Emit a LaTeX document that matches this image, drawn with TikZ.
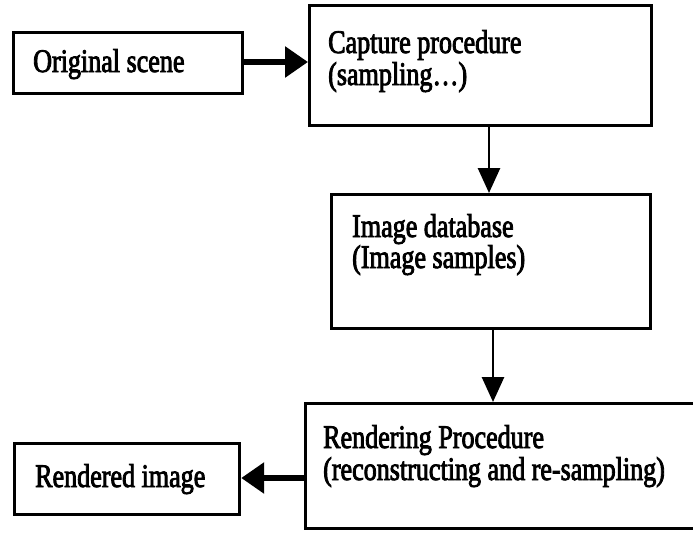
\documentclass[tikz,border=0pt]{standalone}
\usepackage{fontspec}
\setmainfont[FakeStretch=0.79,FakeBold=2.5]{Liberation Serif}
\usetikzlibrary{arrows.meta}
\begin{document}
\begin{tikzpicture}[x=1pt,y=-1pt,
  box/.style={draw=black,line width=3.2pt,anchor=north west,inner sep=0pt},
  lbl/.style={anchor=base west,inner sep=0pt,font=\fontsize{33}{33}\selectfont},
  thick arrow/.style={line width=6pt,-{Triangle[length=23pt,width=30pt]}},
  thin arrow/.style={line width=2.8pt,-{Triangle[length=25pt,width=22pt]}}]
\useasboundingbox (0,0) rectangle (693,535);
\fill[white] (0,0) rectangle (693,535);
% boxes
\node[box,minimum width=229pt,minimum height=61pt] (orig) at (12,31) {};
\node[box,minimum width=342pt,minimum height=120pt] (capt) at (308,4) {};
\node[box,minimum width=319pt,minimum height=134pt] (imdb) at (330,193) {};
\node[box,minimum width=392pt,minimum height=125pt] (rend) at (304,402) {};
\node[box,minimum width=225pt,minimum height=71pt] (rimg) at (13,442) {};
% texts
\node[lbl] (t1) at (33,72) {Original scene};
\node[lbl] (t2) at (328,53) {Capture procedure};
\node[lbl] (t3) at (328,85) {(sampling\ldots)};
\node[lbl] (t4) at (352,237) {Image database};
\node[lbl] (t5) at (352,268) {(Image samples)};
\node[lbl] (t6) at (323,448) {Rendering Procedure};
\node[lbl] (t7) at (323,480) {(reconstructing and re-sampling)};
\node[lbl] (t8) at (35,487) {Rendered image};
% connectors
\coordinate (c1) at (0,62);
\coordinate (c2) at (489,0);
\coordinate (c3) at (493,0);
\coordinate (c4) at (0,478);
\draw[thick arrow] (orig.east |- c1) -- (capt.west |- c1);
\draw[thin arrow] (c2 |- capt.south) -- (c2 |- imdb.north);
\draw[thin arrow] (c3 |- imdb.south) -- (c3 |- rend.north);
\draw[thick arrow] (rend.west |- c4) -- (rimg.east |- c4);
\end{tikzpicture}
\end{document}
